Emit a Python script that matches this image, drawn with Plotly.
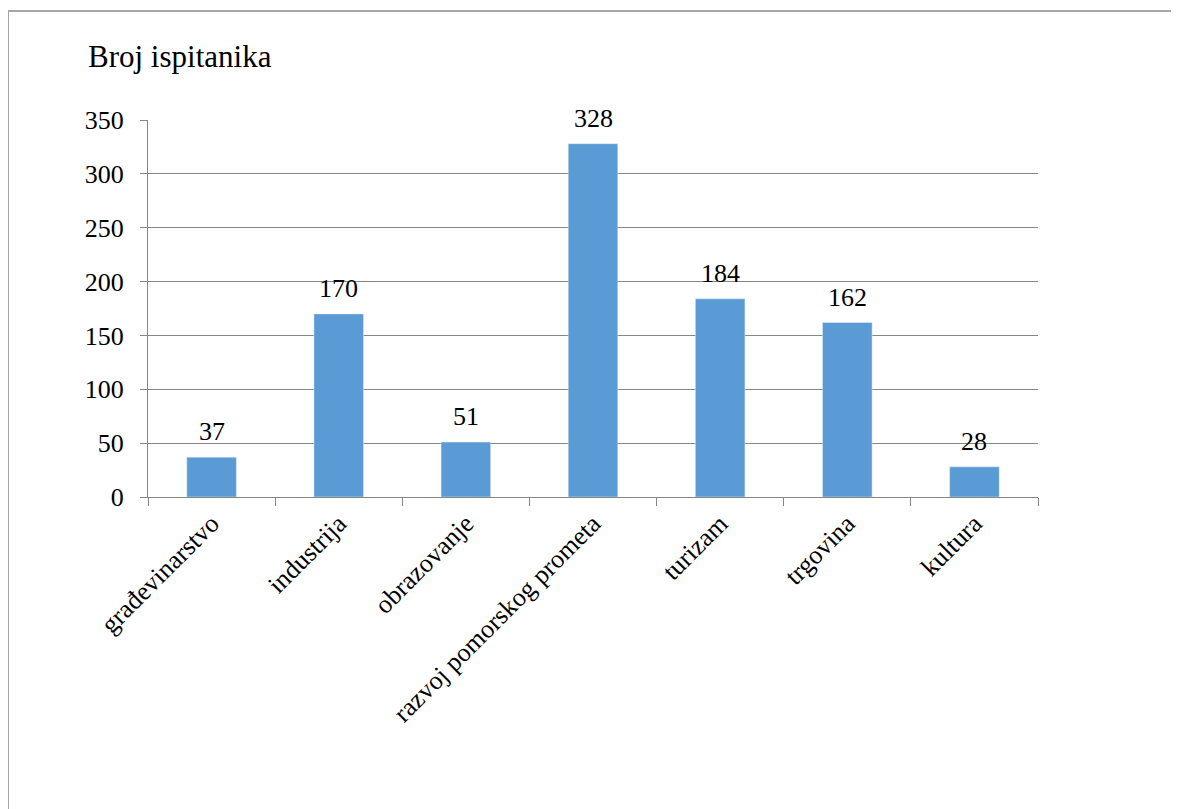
import plotly.graph_objects as go

categories = ["građevinarstvo", "industrija", "obrazovanje", "razvoj pomorskog prometa",
              "turizam", "trgovina", "kultura"]
values = [37, 170, 51, 328, 184, 162, 28]
y_ticks = [0, 50, 100, 150, 200, 250, 300, 350]

FONT = "Liberation Serif, 'Times New Roman', Times, serif"
W, H = 1179, 809
OFF = 8  # page body margin
L, R, T, B = 148 - OFF, 1038 - OFF, 120 - OFF, 497 - OFF
pw, ph = R - L, B - T

fig = go.Figure()
fig.add_trace(go.Bar(x=categories, y=values, marker_color="#5B9BD5", width=0.39,
                     hoverinfo="x+y"))

for c, v in zip(categories, values):
    fig.add_annotation(x=c, y=v, text=str(v), showarrow=False, yanchor="bottom",
                       yshift=9, font=dict(family=FONT, size=26, color="black"))

def px(x):
    return (x - OFF - L) / pw

def py(y):
    return (B - (y - OFF)) / ph

fig.add_shape(type="line", xref="paper", yref="paper", x0=px(8), x1=px(8), y0=py(830), y1=py(11),
              line=dict(color="#A6A6A6", width=2))
fig.add_shape(type="line", xref="paper", yref="paper", x0=px(8), x1=px(1200), y0=py(11), y1=py(11),
              line=dict(color="#A6A6A6", width=2))

fig.add_annotation(xref="paper", yref="paper", x=px(86), y=py(56), xanchor="left", yanchor="middle",
                   text="Broj ispitanika", showarrow=False,
                   font=dict(family=FONT, size=31, color="black"))

fig.update_layout(
    width=W, height=H,
    margin=dict(l=L, r=W - R, t=T, b=H - B, pad=0),
    paper_bgcolor="white", plot_bgcolor="white",
    showlegend=False,
    font=dict(family=FONT, size=26, color="black"),
    bargap=0.61,
)
fig.update_xaxes(type="category", tickangle=-45, showline=True, linecolor="#868686", linewidth=1,
                 ticks="outside", tickson="boundaries", ticklen=8, tickcolor="#868686",
                 showgrid=False, tickfont=dict(size=26, family=FONT))
fig.update_yaxes(range=[0, 350], tickvals=y_ticks, showgrid=True, gridcolor="#868686", gridwidth=1,
                 showline=True, linecolor="#868686", linewidth=1, ticks="outside", ticklen=7,
                 tickcolor="#868686", zeroline=False, ticklabelstandoff=11,
                 tickfont=dict(size=26, family=FONT))

fig.write_html("out.html")
